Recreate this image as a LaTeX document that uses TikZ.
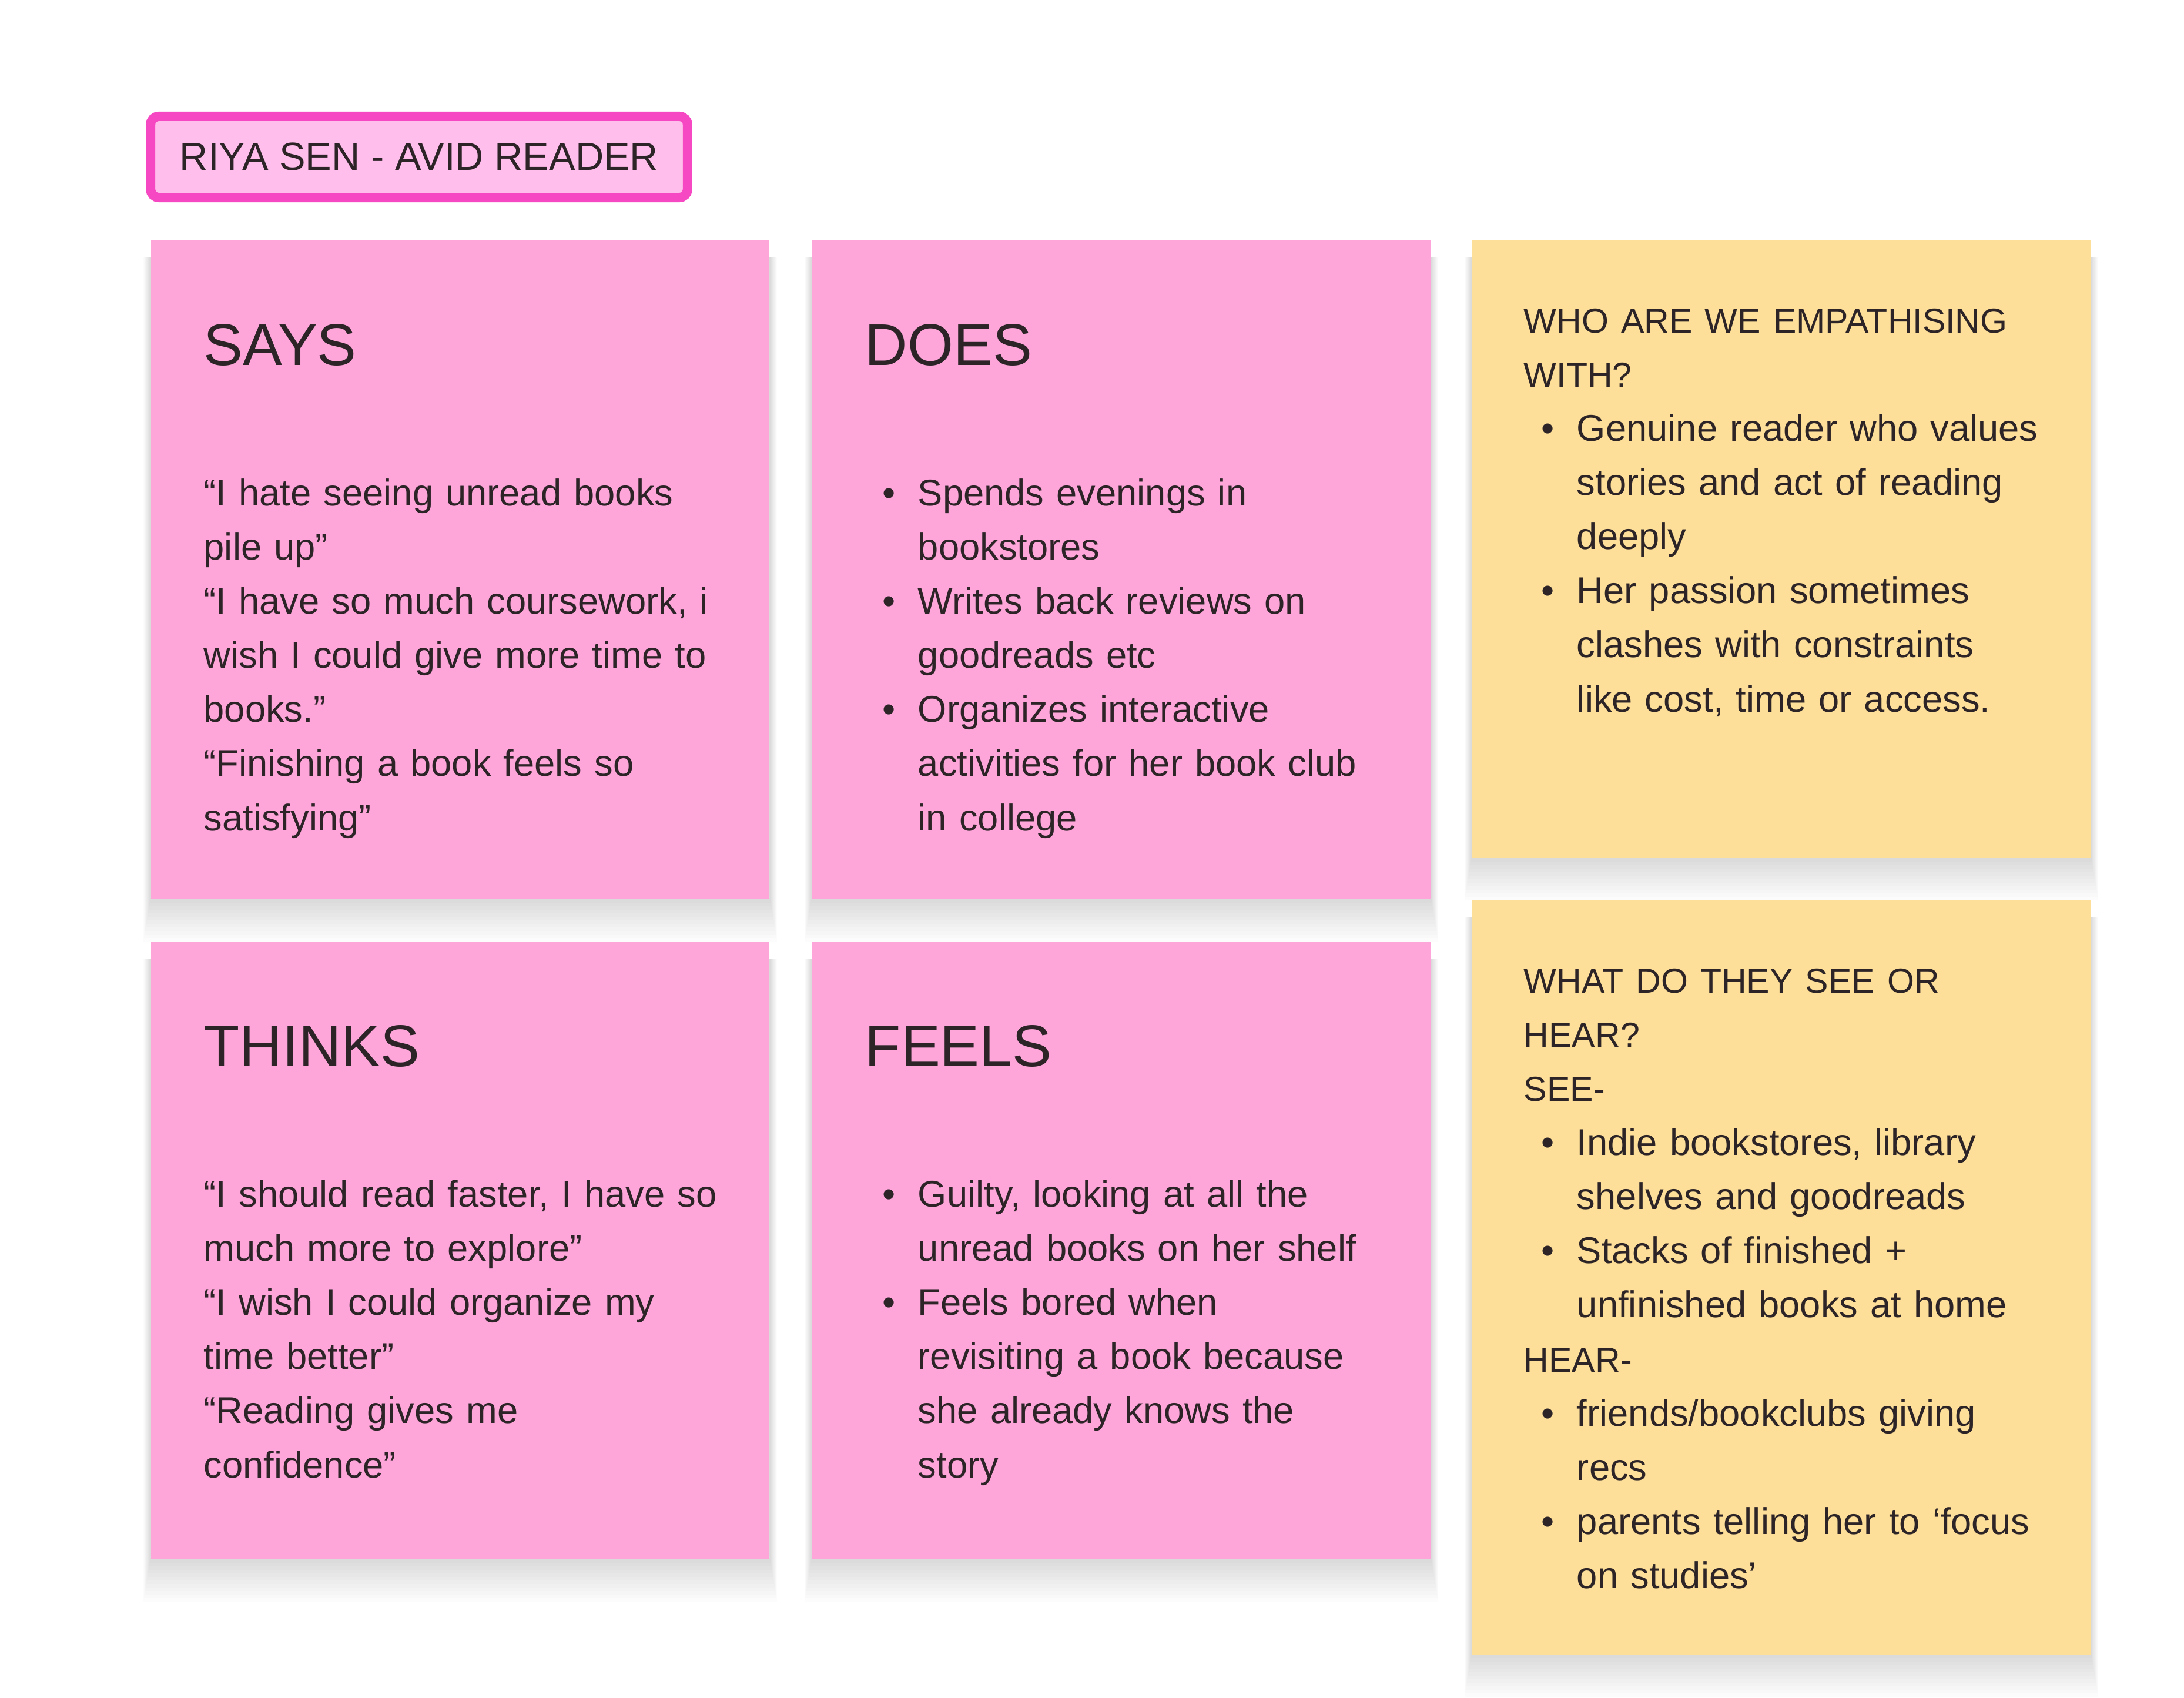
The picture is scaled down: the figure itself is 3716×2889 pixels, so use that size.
\documentclass[tikz,border=0pt]{standalone}
\usepackage{fontspec}
\setmainfont{Liberation Sans}
\usetikzlibrary{positioning, backgrounds}

\definecolor{notepink}{HTML}{FEA6DA}
\definecolor{noteyellow}{HTML}{FDDF99}
\definecolor{tagpink}{HTML}{FFBEEC}
\definecolor{tagborder}{HTML}{F748C4}
\definecolor{ink}{HTML}{2C2427}

% bullet with hanging indent
\newcommand{\bul}{\makebox[0.9cm][l]{\hspace{0.3cm}\textbullet}}
\newcommand{\ind}{\hspace*{0.9cm}}
\newcommand{\caps}[1]{{\fontsize{16.8}{26.2}\selectfont #1}}
% soft shadow under a note
\newcommand{\noteshadow}[1]{%
  \foreach \s in {1,...,12}
    \fill[black, opacity=0.012] ([xshift=-\s*0.01cm, yshift=-\s*0.06cm]#1.south west)
        rectangle ([xshift=\s*0.01cm, yshift=-0.3cm]#1.north east);
}

\begin{document}
\begin{tikzpicture}[
    x=0.01cm, y=-0.01cm,
    note/.style={rectangle, minimum width=10.52cm, inner sep=0pt},
    pinknote/.style={note, fill=notepink, minimum height=11.2cm},
    yellownote/.style={note, fill=noteyellow, minimum height=10.5cm},
    head/.style={anchor=base west, inner sep=0pt, text=ink, font=\fontsize{28.5}{34}\selectfont},
    body/.style={anchor=base west, inner sep=0pt, text=ink, align=left, text width=9.7cm,
        font=\fontsize{18}{26.2}\selectfont}
]
\useasboundingbox (0,0) rectangle (3716,2889);

% Titel
\node (title) [rectangle, draw=tagborder, line width=0.16cm, fill=tagpink, rounded corners=0.14cm,
    minimum width=9.13cm, minimum height=1.38cm, text=ink, font=\fontsize{19}{23}\selectfont]
    at (713,267) {RIYA SEN - AVID READER};

% Notizzettel
\node (says) [pinknote, anchor=north west] at (256,408) {};
\node (does) [pinknote, right=0.71cm of says.north east, anchor=north west] {};
\node (who) [yellownote, right=0.69cm of does.north east, anchor=north west] {};
\node (thinks) [pinknote, minimum height=10.5cm, below=0.71cm of says.south west, anchor=north west] {};
\node (feels) [pinknote, minimum height=10.5cm, right=0.71cm of thinks.north east, anchor=north west] {};
\node (what) [yellownote, minimum height=12.82cm, below=0.71cm of who.south west, anchor=north west] {};

\begin{scope}[on background layer]
    \fill[white] (0,0) rectangle (3716,2889);
    \noteshadow{says}
    \noteshadow{does}
    \noteshadow{who}
    \noteshadow{thinks}
    \noteshadow{feels}
    \noteshadow{what}
\end{scope}

% Ueberschriften
\node (saysh) [head, xshift=0.9cm, yshift=-2.13cm] at (says.north west) {SAYS};
\node (doesh) [head, xshift=0.9cm, yshift=-2.13cm] at (does.north west) {DOES};
\node (thinksh) [head, xshift=0.9cm, yshift=-2.13cm] at (thinks.north west) {THINKS};
\node (feelsh) [head, xshift=0.9cm, yshift=-2.13cm] at (feels.north west) {FEELS};

% Texte
\node (saysb) [body, xshift=0.9cm, yshift=-4.52cm] at (says.north west)
    {“I hate seeing unread books\\pile up”\\“I have so much coursework, i\\wish I could give more time to\\books.”\\“Finishing a book feels so\\satisfying”};
\node (doesb) [body, xshift=0.9cm, yshift=-4.52cm] at (does.north west)
    {\bul Spends evenings in\\\ind bookstores\\\bul Writes back reviews on\\\ind goodreads etc\\\bul Organizes interactive\\\ind activities for her book club\\\ind in college};
\node (whob) [body, xshift=0.88cm, yshift=-1.58cm] at (who.north west)
    {\caps{WHO ARE WE EMPATHISING}\\\caps{WITH?}\\\bul Genuine reader who values\\\ind stories and act of reading\\\ind deeply\\\bul Her passion sometimes\\\ind clashes with constraints\\\ind like cost, time or access.};
\node (thinksb) [body, xshift=0.9cm, yshift=-4.52cm] at (thinks.north west)
    {“I should read faster, I have so\\much more to explore”\\“I wish I could organize my\\time better”\\“Reading gives me\\confidence”};
\node (feelsb) [body, xshift=0.9cm, yshift=-4.52cm] at (feels.north west)
    {\bul Guilty, looking at all the\\\ind unread books on her shelf\\\bul Feels bored when\\\ind revisiting a book because\\\ind she already knows the\\\ind story};
\node (whatb) [body, xshift=0.88cm, yshift=-1.58cm] at (what.north west)
    {\caps{WHAT DO THEY SEE OR}\\\caps{HEAR?}\\\caps{SEE-}\\\bul Indie bookstores, library\\\ind shelves and goodreads\\\bul Stacks of finished +\\\ind unfinished books at home\\\caps{HEAR-}\\\bul friends/bookclubs giving\\\ind recs\\\bul parents telling her to ‘focus\\\ind on studies’};

\end{tikzpicture}
\end{document}
